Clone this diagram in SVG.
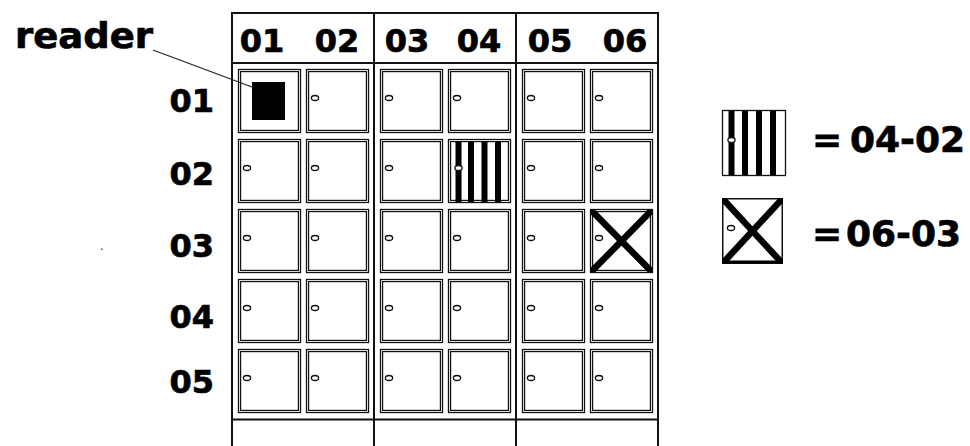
<svg xmlns="http://www.w3.org/2000/svg" width="970" height="446" viewBox="0 0 970 446">
<style>
.t{font-family:"DejaVu Sans","Liberation Sans",sans-serif;font-weight:bold;fill:#000;stroke:#000;stroke-width:0.7}
.hd{font-size:32px;text-anchor:middle}
.rl{font-size:32px;text-anchor:end}
.ln{stroke:#111;stroke-width:2;fill:none}
.co{fill:#fff;stroke:#111;stroke-width:1.3}
.ci{fill:none;stroke:#111;stroke-width:1.2}
.kn{fill:#fff;stroke:#111;stroke-width:1.3}
.bar{fill:#000}
.xl{stroke:#000;stroke-width:6.5}
</style>
<defs>
<g id="cell">
<rect class="co" x="0.5" y="0.5" width="62" height="63"/>
<rect class="ci" x="2.6" y="2.6" width="57.8" height="58.8"/>
</g>
<g id="knob"><ellipse class="kn" cx="9" cy="29" rx="3.6" ry="2.5"/></g>
<clipPath id="cx"><rect x="591" y="210" width="61" height="62"/></clipPath>
<clipPath id="lx"><rect x="722" y="198" width="61" height="66"/></clipPath>
</defs>
<rect width="970" height="446" fill="#fff"/>
<g id="frame">
<line class="ln" x1="231" y1="13" x2="659" y2="13"/>
<line class="ln" x1="232" y1="63" x2="658" y2="63"/>
<line class="ln" x1="232" y1="419.5" x2="658" y2="419.5"/>
<line class="ln" x1="232" y1="12" x2="232" y2="446"/>
<line class="ln" x1="374" y1="12" x2="374" y2="446"/>
<line class="ln" x1="516" y1="12" x2="516" y2="446"/>
<line class="ln" x1="658" y1="12" x2="658" y2="446"/>
</g>
<g id="col-headers">
<text class="t hd" x="262" y="52">01</text>
<text class="t hd" x="337" y="52">02</text>
<text class="t hd" x="407" y="52">03</text>
<text class="t hd" x="479" y="52">04</text>
<text class="t hd" x="550" y="52">05</text>
<text class="t hd" x="625" y="52">06</text>
</g>
<g id="row-headers">
<text class="t rl" x="214" y="112">01</text>
<text class="t rl" x="214" y="185">02</text>
<text class="t rl" x="214" y="257">03</text>
<text class="t rl" x="214" y="328">04</text>
<text class="t rl" x="214" y="393">05</text>
</g>
<g id="cells">
<g id="c01-01"><use href="#cell" x="238" y="69"/><rect x="252" y="82" width="33" height="38" fill="#000"/></g>
<g id="c02-01"><use href="#cell" x="306" y="69"/><use href="#knob" x="306" y="69"/></g>
<g id="c03-01"><use href="#cell" x="380" y="69"/><use href="#knob" x="380" y="69"/></g>
<g id="c04-01"><use href="#cell" x="448" y="69"/><use href="#knob" x="448" y="69"/></g>
<g id="c05-01"><use href="#cell" x="522" y="69"/><use href="#knob" x="522" y="69"/></g>
<g id="c06-01"><use href="#cell" x="590" y="69"/><use href="#knob" x="590" y="69"/></g>
<g id="c01-02"><use href="#cell" x="238" y="139"/><use href="#knob" x="238" y="139"/></g>
<g id="c02-02"><use href="#cell" x="306" y="139"/><use href="#knob" x="306" y="139"/></g>
<g id="c03-02"><use href="#cell" x="380" y="139"/><use href="#knob" x="380" y="139"/></g>
<g id="c04-02"><use href="#cell" x="448" y="139"/>
<rect class="bar" x="455.5" y="141" width="6" height="61"/>
<rect class="bar" x="468" y="141" width="6" height="61"/>
<rect class="bar" x="481.5" y="141" width="6" height="61"/>
<rect class="bar" x="495" y="141" width="6" height="61"/>
<ellipse class="kn" cx="458.5" cy="168" rx="3.6" ry="2.5"/></g>
<g id="c05-02"><use href="#cell" x="522" y="139"/><use href="#knob" x="522" y="139"/></g>
<g id="c06-02"><use href="#cell" x="590" y="139"/><use href="#knob" x="590" y="139"/></g>
<g id="c01-03"><use href="#cell" x="238" y="209"/><use href="#knob" x="238" y="209"/></g>
<g id="c02-03"><use href="#cell" x="306" y="209"/><use href="#knob" x="306" y="209"/></g>
<g id="c03-03"><use href="#cell" x="380" y="209"/><use href="#knob" x="380" y="209"/></g>
<g id="c04-03"><use href="#cell" x="448" y="209"/><use href="#knob" x="448" y="209"/></g>
<g id="c05-03"><use href="#cell" x="522" y="209"/><use href="#knob" x="522" y="209"/></g>
<g id="c06-03"><use href="#cell" x="590" y="209"/><use href="#knob" x="590" y="209"/>
<g clip-path="url(#cx)"><line class="xl" x1="591" y1="210" x2="652" y2="272"/><line class="xl" x1="652" y1="210" x2="591" y2="272"/></g></g>
<g id="c01-04"><use href="#cell" x="238" y="279"/><use href="#knob" x="238" y="279"/></g>
<g id="c02-04"><use href="#cell" x="306" y="279"/><use href="#knob" x="306" y="279"/></g>
<g id="c03-04"><use href="#cell" x="380" y="279"/><use href="#knob" x="380" y="279"/></g>
<g id="c04-04"><use href="#cell" x="448" y="279"/><use href="#knob" x="448" y="279"/></g>
<g id="c05-04"><use href="#cell" x="522" y="279"/><use href="#knob" x="522" y="279"/></g>
<g id="c06-04"><use href="#cell" x="590" y="279"/><use href="#knob" x="590" y="279"/></g>
<g id="c01-05"><use href="#cell" x="238" y="349"/><use href="#knob" x="238" y="349"/></g>
<g id="c02-05"><use href="#cell" x="306" y="349"/><use href="#knob" x="306" y="349"/></g>
<g id="c03-05"><use href="#cell" x="380" y="349"/><use href="#knob" x="380" y="349"/></g>
<g id="c04-05"><use href="#cell" x="448" y="349"/><use href="#knob" x="448" y="349"/></g>
<g id="c05-05"><use href="#cell" x="522" y="349"/><use href="#knob" x="522" y="349"/></g>
<g id="c06-05"><use href="#cell" x="590" y="349"/><use href="#knob" x="590" y="349"/></g>
</g>
<g id="reader-label">
<text class="t" x="15" y="48" font-size="35" textLength="138" lengthAdjust="spacingAndGlyphs" stroke-width="1">reader</text>
</g>
<g id="legend-striped">
<rect x="722.5" y="110.5" width="63" height="65" fill="#fff" stroke="#111" stroke-width="1.3"/>
<rect class="bar" x="728.5" y="111" width="6" height="64"/>
<rect class="bar" x="742" y="111" width="6" height="64"/>
<rect class="bar" x="756" y="111" width="6" height="64"/>
<rect class="bar" x="770" y="111" width="6" height="64"/>
<ellipse class="kn" cx="731.5" cy="140" rx="3.6" ry="2.5"/>
<text class="t" font-size="36" y="152"><tspan x="812">=</tspan><tspan x="850">04-02</tspan></text>
</g>
<g id="legend-cross">
<rect x="722.75" y="198.75" width="59.5" height="64.5" fill="#fff" stroke="#111" stroke-width="1.5"/>
<ellipse class="kn" cx="731" cy="228" rx="3.6" ry="2.5"/>
<g clip-path="url(#lx)"><line class="xl" x1="722" y1="198" x2="783" y2="264"/><line class="xl" x1="783" y1="198" x2="722" y2="264"/></g>
<line x1="722" y1="262" x2="783" y2="262" stroke="#000" stroke-width="3"/>
<text class="t" font-size="36" y="246"><tspan x="812">=</tspan><tspan x="846">06-03</tspan></text>
</g>
<g id="connectors">
<line x1="153" y1="50" x2="252" y2="87" stroke="#222" stroke-width="1.2"/>
</g>
<rect x="101" y="248.5" width="1.5" height="1.5" fill="#555"/>
</svg>
